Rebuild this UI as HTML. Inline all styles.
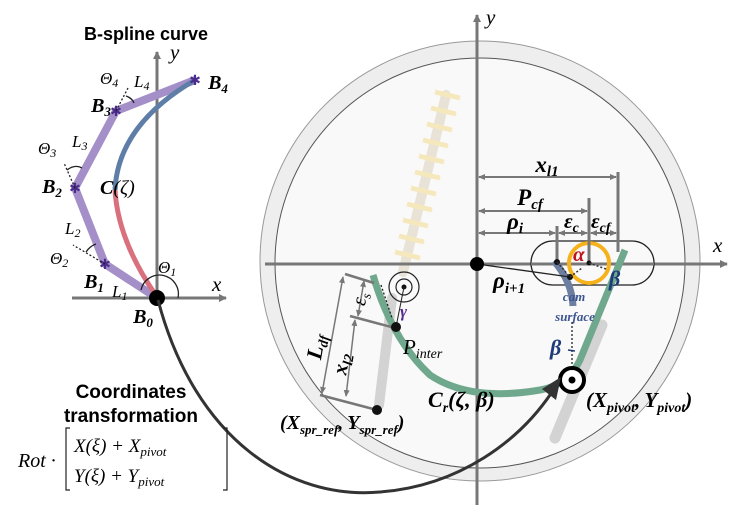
<!DOCTYPE html>
<html><head><meta charset="utf-8"><style>
body{margin:0;background:#fff;width:749px;height:507px;overflow:hidden}
svg{display:block}
.m{font-family:"Liberation Serif",serif;font-style:italic;font-weight:bold}
.mi{font-family:"Liberation Serif",serif;font-style:italic}
.s{font-family:"Liberation Sans",sans-serif;font-weight:bold}
</style></head><body>
<svg width="749" height="507" viewBox="0 0 749 507">
<defs>
<marker id="ag" markerWidth="8" markerHeight="8" refX="7" refY="4" orient="auto" markerUnits="userSpaceOnUse"><path d="M0,0L8,4L0,8z" fill="#777"/></marker>
<marker id="sa" markerWidth="7" markerHeight="6" refX="6" refY="3" orient="auto-start-reverse" markerUnits="userSpaceOnUse"><path d="M0,0L7,3L0,6z" fill="#777"/></marker>
</defs>
<circle cx="480" cy="261" r="220" fill="#eeeeee" stroke="#999" stroke-width="1"/>
<circle cx="480" cy="263" r="205" fill="#f9f9f9" stroke="#555" stroke-width="1"/>
<g opacity="0.75">
<line x1="446" y1="95" x2="403" y2="272" stroke="#e3dccb" stroke-width="10" stroke-linecap="round"/>
<g stroke="#f5e3aa" stroke-width="5">
<line x1="435" y1="92" x2="460" y2="98"/><line x1="431" y1="108" x2="456" y2="114"/><line x1="427" y1="124" x2="452" y2="130"/><line x1="423" y1="140" x2="448" y2="146"/><line x1="419" y1="156" x2="444" y2="162"/><line x1="415" y1="172" x2="440" y2="178"/><line x1="411" y1="188" x2="436" y2="194"/><line x1="407" y1="204" x2="432" y2="210"/><line x1="403" y1="220" x2="428" y2="226"/><line x1="399" y1="236" x2="424" y2="242"/><line x1="395" y1="252" x2="420" y2="258"/>
</g></g>
<line x1="392" y1="298" x2="379" y2="405" stroke="#d3d3d3" stroke-width="10" stroke-linecap="round"/>
<line x1="602" y1="325" x2="555" y2="438" stroke="#d3d3d3" stroke-width="11" stroke-linecap="round"/>
<line x1="477" y1="505" x2="477" y2="15" stroke="#777" stroke-width="3" marker-end="url(#ag)"/>
<line x1="265" y1="264" x2="727" y2="264" stroke="#777" stroke-width="3" marker-end="url(#ag)"/>
<text x="486" y="24" class="mi" font-size="21">y</text>
<text x="713" y="252" class="mi" font-size="21">x</text>
<rect x="531" y="241" width="123" height="44" rx="22" fill="none" stroke="#222" stroke-width="1.3"/>
<line x1="531" y1="264" x2="654" y2="264" stroke="#777" stroke-width="3"/>
<circle cx="589" cy="263" r="20" fill="none" stroke="#f5b21c" stroke-width="4"/>
<path d="M554,261 Q572,282 573,306" fill="none" stroke="#6d7fa0" stroke-width="7"/>
<path d="M373,275 Q392,340 430,375 Q470,402 540,390 Q568,385 580,360 L625,250" fill="none" stroke="#6fa88c" stroke-width="7"/>
<g stroke="#777" stroke-width="3">
<line x1="618" y1="172" x2="618" y2="252"/>
<line x1="589" y1="198" x2="589" y2="263"/>
<line x1="557" y1="226" x2="557" y2="262"/>
</g>
<g stroke="#777" stroke-width="2">
<line x1="479" y1="177" x2="616" y2="177" marker-start="url(#sa)" marker-end="url(#sa)"/>
<line x1="479" y1="211" x2="587" y2="211" marker-start="url(#sa)" marker-end="url(#sa)"/>
<line x1="479" y1="233" x2="555" y2="233" marker-start="url(#sa)" marker-end="url(#sa)"/>
<line x1="559" y1="233" x2="587" y2="233" marker-start="url(#sa)" marker-end="url(#sa)"/>
<line x1="591" y1="233" x2="616" y2="233" marker-start="url(#sa)" marker-end="url(#sa)"/>
</g>
<text x="547" y="172" class="m" font-size="23" text-anchor="middle">x<tspan font-size="15" dy="4">l1</tspan></text>
<text x="530" y="205" class="m" font-size="23" text-anchor="middle">P<tspan font-size="15" dy="4">cf</tspan></text>
<text x="515" y="229" class="m" font-size="23" text-anchor="middle">ρ<tspan font-size="15" dy="4">i</tspan></text>
<text x="564" y="228" class="m" font-size="21">ε<tspan font-size="14" dy="4">c</tspan></text>
<text x="591" y="228" class="m" font-size="21">ε<tspan font-size="14" dy="4">cf</tspan></text>
<line x1="477" y1="264" x2="570" y2="277" stroke="#222" stroke-width="1.3"/>
<circle cx="557" cy="262" r="3" fill="#111"/><circle cx="570" cy="277" r="3" fill="#111"/><circle cx="589" cy="263" r="2.5" fill="#111"/>
<path d="M570,277 L582,268 M589,263 L606,269 M557,262 L570,277" stroke="#333" stroke-width="1.5" stroke-dasharray="2,2" fill="none"/>
<text x="493" y="288" class="m" font-size="23">ρ<tspan font-size="15" dy="5">i+1</tspan></text>
<text x="573" y="261" class="m" font-size="21" fill="#c0141c">α</text>
<text x="609" y="286" class="m" font-size="22" fill="#1e3c78">β</text>
<text x="574" y="301" class="m" font-size="13" fill="#3c5590" text-anchor="middle">cam</text>
<text x="575" y="321" class="m" font-size="13" fill="#3c5590" text-anchor="middle">surface</text>
<line x1="572" y1="322" x2="572" y2="368" stroke="#222" stroke-width="1.3" stroke-dasharray="2,2"/>
<text x="550" y="355" class="m" font-size="22" fill="#1e3c78">β</text>
<line x1="568" y1="350" x2="575" y2="351" stroke="#1e3c78" stroke-width="1.5"/>
<circle cx="572" cy="380" r="12" fill="#fff" stroke="#000" stroke-width="4"/>
<circle cx="572" cy="380" r="3.5" fill="#000"/>
<text x="586" y="407" class="m" font-size="21">(X<tspan font-size="14" dy="5">pivot</tspan><tspan dy="-5">,&#8201;Y</tspan><tspan font-size="14" dy="5">pivot</tspan><tspan dy="-5">)</tspan></text>
<text x="428" y="407" class="m" font-size="22">C<tspan font-size="14" dy="5">r</tspan><tspan dy="-5">(ζ, β)</tspan></text>
<circle cx="404" cy="287" r="15" fill="none" stroke="#222" stroke-width="1.2"/>
<circle cx="404" cy="287" r="8" fill="none" stroke="#222" stroke-width="1.2"/>
<circle cx="404" cy="287" r="2.5" fill="#111"/>
<line x1="404" y1="287" x2="396" y2="327" stroke="#222" stroke-width="1"/>
<line x1="381" y1="285" x2="392" y2="318" stroke="#222" stroke-width="1.3" stroke-dasharray="2,2"/>
<text x="400" y="317" class="m" font-size="17" fill="#5a2e91">γ</text>
<g stroke="#777" stroke-width="2.5">
<line x1="345" y1="274" x2="374" y2="283"/>
<line x1="350" y1="316" x2="395" y2="328"/>
<line x1="320" y1="395" x2="377" y2="410"/>
</g>
<g stroke="#777" stroke-width="1.5">
<line x1="343" y1="277" x2="322" y2="393" marker-start="url(#sa)" marker-end="url(#sa)"/>
<line x1="364" y1="281" x2="358" y2="316" marker-start="url(#sa)" marker-end="url(#sa)"/>
<line x1="355" y1="320" x2="346" y2="396" marker-start="url(#sa)" marker-end="url(#sa)"/>
</g>
<circle cx="396" cy="327" r="5" fill="#111"/>
<circle cx="377" cy="410" r="5" fill="#111"/>
<text transform="translate(323,348) rotate(-80)" class="m" font-size="22" text-anchor="middle">L<tspan font-size="14" dy="4">df</tspan></text>
<text transform="translate(348,365) rotate(-80)" class="m" font-size="21" text-anchor="middle">x<tspan font-size="14" dy="4">l2</tspan></text>
<text transform="translate(366,300) rotate(-80)" class="mi" font-size="20" text-anchor="middle">ε<tspan font-size="13" dy="4">s</tspan></text>
<text x="403" y="354" class="mi" font-size="21">P<tspan font-size="14" dy="4">inter</tspan></text>
<text x="280" y="429" class="m" font-size="20">(X<tspan font-size="13" dy="5">spr_ref</tspan><tspan dy="-5">,&#8201;Y</tspan><tspan font-size="13" dy="5">spr_ref</tspan><tspan dy="-5">)</tspan></text>
<circle cx="477" cy="264" r="7" fill="#000"/>
<line x1="72" y1="298" x2="226" y2="298" stroke="#777" stroke-width="3" marker-end="url(#ag)"/>
<line x1="157" y1="300" x2="157" y2="52" stroke="#777" stroke-width="3" marker-end="url(#ag)"/>
<text x="170" y="59" class="mi" font-size="21">y</text>
<text x="212" y="291" class="mi" font-size="21">x</text>
<polyline points="157,298 105,264 75,188 116,111 195,80" fill="none" stroke="#a48fc8" stroke-width="8" stroke-linejoin="round"/>
<path d="M155,294 Q118,240 115,190" fill="none" stroke="#d9707e" stroke-width="5"/>
<path d="M115,190 Q118,125 195,80" fill="none" stroke="#5e7ea8" stroke-width="5"/>
<g font-family="Liberation Sans" font-size="14" fill="#4a2a8a" text-anchor="middle">
<text x="105" y="269">✱</text><text x="75" y="193">✱</text><text x="116" y="116">✱</text><text x="195" y="85">✱</text>
</g>
<g stroke="#222" stroke-width="1.3" stroke-dasharray="2,2" fill="none">
<line x1="105" y1="264" x2="73" y2="245"/><line x1="75" y1="188" x2="64" y2="163"/><line x1="116" y1="111" x2="128" y2="88"/>
</g>
<g stroke="#222" stroke-width="1.3" fill="none">
<path d="M86,252 Q90,246 96,244"/><path d="M67,170 Q75,164 82,168"/><path d="M126,96 Q132,98 134,103"/>
<path d="M141,290 A18,18 0 1,1 178,298"/>
</g>
<circle cx="157" cy="298" r="8" fill="#000"/>
<text x="84" y="40" class="s" font-size="18">B-spline curve</text>
<text x="101" y="112" class="m" font-size="20" text-anchor="middle">B<tspan font-size="13" dy="4">3</tspan></text>
<text x="218" y="89" class="m" font-size="20" text-anchor="middle">B<tspan font-size="13" dy="4">4</tspan></text>
<text x="52" y="193" class="m" font-size="20" text-anchor="middle">B<tspan font-size="13" dy="4">2</tspan></text>
<text x="94" y="288" class="m" font-size="20" text-anchor="middle">B<tspan font-size="13" dy="4">1</tspan></text>
<text x="143" y="323" class="m" font-size="20" text-anchor="middle">B<tspan font-size="13" dy="4">0</tspan></text>
<text x="100" y="194" class="m" font-size="20">C<tspan class="mi" font-weight="normal">(ζ)</tspan></text>
<g class="mi" font-size="17">
<text x="100" y="84">Θ<tspan font-size="12" dy="3">4</tspan></text>
<text x="134" y="87">L<tspan font-size="12" dy="3">4</tspan></text>
<text x="72" y="147">L<tspan font-size="12" dy="3">3</tspan></text>
<text x="38" y="154">Θ<tspan font-size="12" dy="3">3</tspan></text>
<text x="65" y="234">L<tspan font-size="12" dy="3">2</tspan></text>
<text x="50" y="264">Θ<tspan font-size="12" dy="3">2</tspan></text>
<text x="158" y="273">Θ<tspan font-size="12" dy="3">1</tspan></text>
<text x="112" y="297">L<tspan font-size="12" dy="3">1</tspan></text>
</g>
<path d="M158,300 C195,440 290,500 380,492 C460,486 520,440 552,392" fill="none" stroke="#333" stroke-width="3"/>
<path d="M561,377 L556,400 L542,389 z" fill="#333"/>
<text x="131" y="398" class="s" font-size="19" text-anchor="middle">Coordinates</text>
<text x="131" y="422" class="s" font-size="19" text-anchor="middle">transformation</text>
<text x="18" y="467" class="mi" font-size="20">Rot ·</text>
<path d="M70,428 h-4 v62 h4 M223,428 h4 v62 h-4" fill="none" stroke="#222" stroke-width="1.2"/>
<text x="74" y="452" class="mi" font-size="19">X(ξ) + X<tspan font-size="13" dy="4">pivot</tspan></text>
<text x="74" y="482" class="mi" font-size="19">Y(ξ) + Y<tspan font-size="13" dy="4">pivot</tspan></text>
</svg>
</body></html>
